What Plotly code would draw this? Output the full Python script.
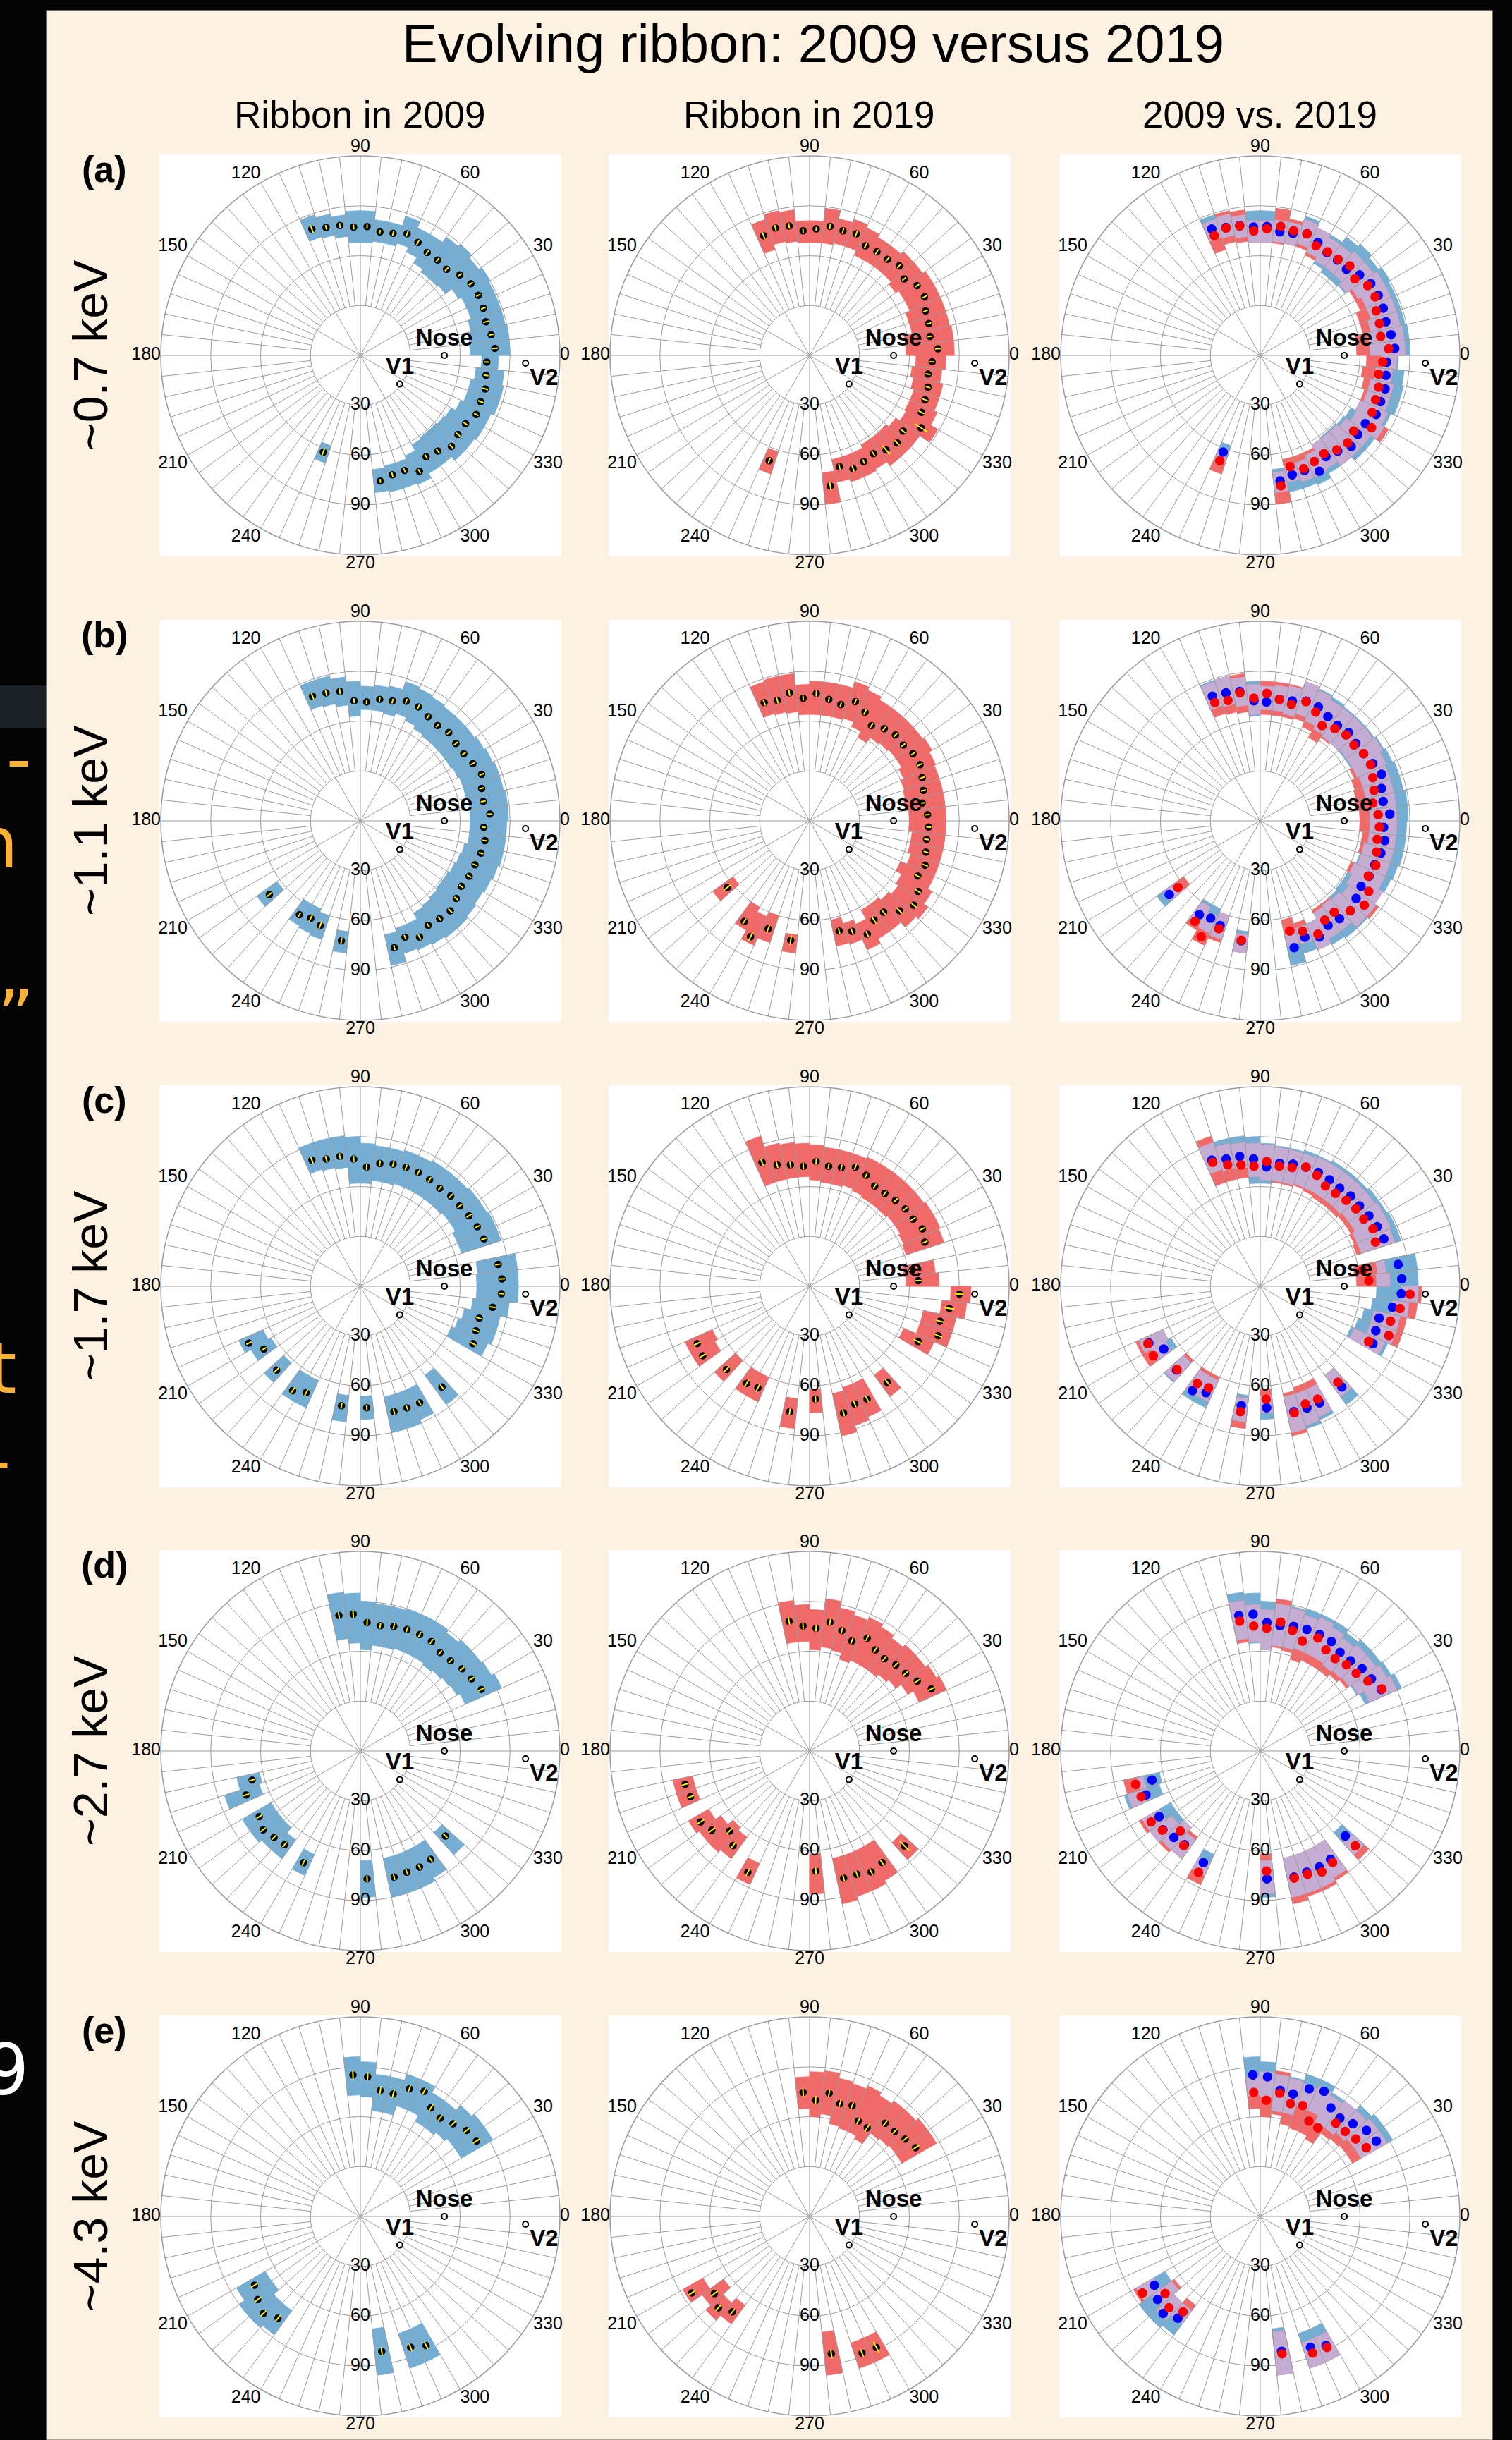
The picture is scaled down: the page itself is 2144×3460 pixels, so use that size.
import plotly.graph_objects as go

W, H = 2144, 3460
FONT = "Liberation Sans, Arial, Helvetica, sans-serif"

# ---------------- text ----------------
TITLE = "Evolving ribbon: 2009 versus 2019"
COL_TITLES = ["Ribbon in 2009", "Ribbon in 2019", "2009 vs. 2019"]
ROW_TAGS = ["(a)", "(b)", "(c)", "(d)", "(e)"]
ROW_ENERGIES = ["~0.7 keV", "~1.1 keV", "~1.7 keV", "~2.7 keV", "~4.3 keV"]
ANG_TICKS = list(range(0, 360, 30))
ANG_TICK_POS = ["middle right", "top right", "top right", "top center", "top left", "top left",
                "middle left", "bottom left", "bottom left", "bottom center", "bottom right", "bottom right"]
RAD_TICKS = [30, 60, 90]
RAD_MAX = 120
BIN_W = 6
MINOR_SPOKES = [a for a in range(0, 360, 6) if a % 30]

LANDMARK_NAMES = ["<b>Nose</b>", "<b>V1</b>", "<b>V2</b>"]
LANDMARK_R = [50.5, 29.3, 99.4]
LANDMARK_THETA = [0, 324, 357.3]
LANDMARK_TEXTPOS = ["top center", "top center", "bottom right"]

# ---------------- data: (a) ~0.7 keV ----------------
theta_a = [111, 105, 99, 93, 87, 81, 75, 69, 63, 57, 51, 45, 39, 33, 27, 21, 15, 9, 3,
           357, 351, 345, 339, 333, 327, 321, 315, 309, 303, 297, 291, 285, 279, 249]
peak_a_2009 = [81.4, 79.7, 79.1, 77.3, 77.6, 75.2, 76.0, 78.4, 76.3, 73.8, 73.8, 73.3, 76.9, 79.2, 79.6, 79.2, 78.2, 79.6, 81.0,
               76.1, 76.5, 77.7, 77.5, 78.2, 75.4, 75.5, 77.4, 74.0, 72.6, 78.2, 74.1, 74.3, 76.4, 62.2]
lo_a_2009 = [75, 74, 72, 68, 68, 69, 69, 71, 68, 64, 62, 62, 63, 68, 70, 70, 68, 66, 66,
             73, 70, 68, 68, 66, 63, 62, 61, 61, 62, 66, 68, 68, 69, 57]
hi_a_2009 = [89, 87, 85, 87, 87, 82, 82, 88, 84, 84, 88, 90, 88, 90, 89, 89, 89, 90, 90,
             83, 87, 88, 88, 86, 86, 85, 85, 82, 82, 85, 84, 84, 83, 68]
err_a_2009 = [2.5, 1.5, 1.5, 1.5, 1.2, 1.2, 1.5, 1.8, 1.8, 1.5, 1.5, 1.5, 1.5, 1.5, 1.5, 1.5, 1.8, 1.5, 1.8,
              1.5, 1.5, 1.8, 1.8, 1.5, 1.5, 1.8, 1.5, 1.5, 1.5, 1.5, 1.5, 1.5, 1.2, 2.5]
peak_a_2019 = [77.1, 79.3, 78.8, 75.0, 76.2, 78.6, 77.6, 78.3, 74.0, 74.3, 74.4, 76.2, 73.1, 77.1, 77.5, 74.7, 74.2, 73.3, 77.3,
               73.8, 72.1, 73.7, 74.3, 75.5, 79.8, 72.3, 74.3, 73.1, 70.4, 71.6, 72.9, 69.2, 79.4, 67.8]
lo_a_2019 = [67, 70, 69, 68, 68, 68, 69, 69, 66, 66, 66, 66, 64, 66, 66, 63, 63, 58, 58,
             64, 62, 64, 66, 66, 67, 64, 62, 62, 62, 64, 64, 64, 71, 61]
hi_a_2019 = [86, 89, 88, 81, 81, 89, 84, 86, 84, 82, 82, 84, 84, 86, 86, 86, 86, 87, 87,
             82, 80, 82, 82, 84, 89, 82, 82, 82, 79, 80, 80, 78, 90, 75]
err_a_2019 = [2.2, 2.0, 1.8, 1.2, 1.2, 1.8, 1.8, 2.0, 1.8, 1.8, 1.8, 1.8, 1.5, 1.5, 1.8, 1.5, 1.5, 1.5, 1.8,
              1.5, 1.5, 1.5, 1.8, 2.0, 4.5, 1.8, 2.2, 3.5, 1.8, 1.5, 2.0, 1.8, 2.5, 1.8]

# ---------------- data: (b) ~1.1 keV ----------------
theta_b = [111, 105, 99, 93, 87, 81, 75, 69, 63, 57, 51, 45, 39, 33, 27, 21, 15, 9, 3,
           357, 351, 345, 339, 333, 327, 321, 315, 309, 303, 297, 291, 285,
           261, 249, 243, 237, 219]
peak_b_2009 = [80.3, 79.7, 78.8, 72.3, 71.6, 74.0, 74.6, 77.1, 76.9, 74.7, 73.8, 75.1, 73.9, 74.1, 75.9, 78.1, 75.5, 74.8, 78.0,
               74.3, 75.8, 75.1, 73.8, 73.4, 72.3, 74.2, 76.5, 75.7, 74.9, 78.4, 74.9, 78.9,
               73.0, 67.4, 65.7, 67.3, 70.4]
lo_b_2009 = [73, 72, 70, 63, 67, 67, 66, 68, 66, 64, 63, 63, 63, 63, 64, 65, 65, 66, 66,
             66, 66, 64, 63, 62, 61, 61, 62, 63, 64, 68, 68, 70,
             67, 60, 58, 58, 62]
hi_b_2009 = [89, 89, 87, 84, 81, 82, 83, 88, 87, 86, 85, 85, 85, 86, 87, 88, 88, 89, 89,
             88, 88, 88, 87, 86, 85, 86, 87, 87, 86, 85, 84, 89,
             80, 75, 74, 73, 77]
err_b_2009 = [2.2, 2.0, 1.8, 1.5, 1.5, 1.5, 1.5, 1.5, 1.5, 1.5, 1.5, 1.5, 1.5, 1.5, 1.5, 1.5, 1.5, 1.5, 1.5,
              1.2, 1.5, 1.5, 1.5, 1.5, 1.5, 1.5, 1.8, 1.5, 1.5, 1.8, 1.5, 1.5,
              2.0, 2.5, 2.5, 1.5, 2.0]
peak_b_2019 = [76.2, 75.0, 77.9, 73.9, 76.7, 73.9, 72.4, 76.8, 73.4, 68.3, 71.3, 73.0, 72.5, 74.1, 74.5, 72.5, 70.8, 68.5, 71.0,
               71.7, 71.2, 72.4, 74.4, 73.0, 77.8, 80.5, 76.4, 70.7, 71.2, 76.4, 71.1, 68.6,
               72.7, 69.5, 78.2, 72.1, 63.7]
lo_b_2019 = [68, 67, 66, 64, 64, 64, 64, 65, 62, 58, 62, 63, 64, 64, 62, 60, 59, 58, 60,
             60, 62, 62, 64, 60, 64, 66, 64, 62, 62, 68, 65, 61,
             69, 60, 63, 60, 57]
hi_b_2019 = [88, 89, 89, 82, 84, 84, 84, 88, 86, 84, 84, 84, 84, 85, 83, 82, 82, 82, 82,
             82, 82, 82, 82, 82, 85, 88, 86, 82, 82, 85, 78, 77,
             80, 77, 82, 76, 72]
err_b_2019 = [2.0, 2.0, 1.8, 1.5, 1.8, 1.5, 1.5, 1.8, 1.8, 1.8, 1.5, 1.5, 1.5, 1.5, 1.8, 1.8, 1.5, 1.5, 1.5,
              1.5, 1.5, 1.5, 1.8, 2.0, 2.2, 2.5, 2.5, 2.0, 2.5, 2.0, 2.2, 2.0,
              3.0, 2.5, 3.0, 2.0, 3.0]

# ---------------- data: (c) ~1.7 keV ----------------
theta_c = [111, 105, 99, 93, 87, 81, 75, 69, 63, 57, 51, 45, 39, 33, 27, 21,
           9, 3, 357, 351, 345, 339, 333,
           309, 297, 291, 285, 273, 261, 243, 237, 225, 213, 207]
peak_c_2009 = [81.3, 79.2, 79.1, 76.6, 71.9, 74.8, 76.1, 76.6, 76.9, 76.4, 75.9, 76.8, 76.8, 77.9, 78.9, 79.6,
               83.9, 85.2, 84.9, 80.5, 74.0, 74.4, 76.0,
               77.9, 78.6, 78.3, 78.0, 73.1, 72.7, 71.8, 74.8, 71.2, 69.2, 75.2]
lo_c_2009 = [74, 73, 72, 62, 62, 64, 64, 65, 65, 65, 65, 65, 66, 66, 64, 64,
             71, 70, 70, 68, 64, 62, 60,
             66, 68, 68, 68, 66, 66, 62, 62, 62, 62, 64]
hi_c_2009 = [91, 91, 91, 90, 86, 85, 85, 86, 86, 87, 87, 87, 88, 88, 89, 89,
             95, 95, 95, 90, 86, 86, 84,
             88, 88, 90, 90, 80, 82, 80, 80, 78, 76, 80]
err_c_2009 = [2.2, 2.0, 2.0, 2.0, 2.0, 1.8, 1.8, 1.8, 1.8, 1.8, 1.8, 1.8, 1.8, 1.8, 1.8, 1.8,
              1.8, 1.8, 1.8, 1.8, 2.0, 2.0, 2.0,
              1.8, 1.8, 1.8, 1.8, 1.8, 1.8, 2.2, 2.5, 2.0, 1.8, 1.8]
peak_c_2019 = [79.8, 75.6, 73.9, 72.3, 75.2, 73.1, 73.9, 76.8, 74.9, 71.9, 71.9, 73.0, 74.0, 74.2, 76.1, 74.2,
               62.4, 65.4, 90.2, 85.1, 81.1, 82.8, 73.2,
               74.2, 76.1, 75.7, 78.8, 67.9, 76.3, 68.5, 69.6, 70.7, 76.6, 75.8]
lo_c_2019 = [66, 66, 66, 66, 64, 63, 63, 64, 63, 62, 62, 62, 63, 63, 62, 61,
             57, 58, 85, 80, 70, 70, 62,
             66, 64, 64, 66, 62, 68, 60, 60, 60, 66, 64]
hi_c_2019 = [95, 88, 87, 86, 85, 84, 84, 84, 85, 85, 85, 85, 85, 86, 86, 85,
             76, 78, 97, 95, 90, 90, 82,
             82, 86, 88, 92, 76, 86, 76, 76, 77, 82, 82]
err_c_2019 = [2.2, 2.0, 2.0, 2.0, 2.0, 1.8, 1.8, 1.8, 1.8, 1.8, 1.8, 1.8, 1.8, 1.8, 2.0, 1.8,
              2.0, 2.0, 2.5, 3.0, 2.5, 2.5, 3.0,
              2.2, 2.2, 2.2, 2.2, 2.0, 2.0, 2.5, 2.5, 2.5, 2.2, 2.2]

# ---------------- data: (d) ~2.7 keV ----------------
theta_d = [99, 93, 87, 81, 75, 69, 63, 57, 51, 45, 39, 33, 27,
           315, 303, 297, 291, 285, 273,
           243, 231, 225, 219, 213, 201, 195]
peak_d_2009 = [82.5, 82.4, 77.4, 76.3, 77.6, 78.3, 78.6, 78.5, 76.2, 76.7, 78.7, 79.7, 81.6,
               72.3, 77.6, 78.3, 78.0, 78.5, 77.0,
               75.3, 72.4, 73.4, 75.3, 72.5, 73.6, 67.4]
lo_d_2009 = [68, 65, 61, 64, 64, 65, 65, 65, 64, 65, 66, 67, 69,
             66, 66, 66, 66, 66, 66,
             68, 66, 62, 62, 62, 64, 62]
hi_d_2009 = [96, 95, 90, 89, 89, 90, 90, 90, 88, 90, 90, 91, 93,
             84, 88, 90, 90, 90, 88,
             82, 80, 80, 82, 82, 86, 76]
err_d_2009 = [2.2, 2.2, 2.0, 1.8, 1.8, 1.8, 1.8, 1.8, 1.8, 1.8, 1.8, 2.0, 2.2,
              1.8, 1.8, 1.8, 1.8, 1.8, 2.0,
              2.0, 2.0, 2.0, 2.0, 2.0, 2.0, 2.0]
peak_d_2019 = [79.0, 75.3, 73.9, 78.5, 75.0, 70.8, 76.3, 72.5, 71.5, 73.3, 74.3, 77.2, 82.1,
               80.7, 79.9, 81.6, 79.4, 79.1, 72.3,
               81.8, 73.1, 68.0, 75.7, 78.2, 76.7, 77.5]
lo_d_2019 = [66, 66, 61, 63, 62, 58, 60, 60, 60, 62, 64, 68, 72,
             74, 66, 66, 66, 66, 62,
             74, 64, 62, 66, 70, 72, 72]
hi_d_2019 = [91, 88, 85, 92, 88, 86, 88, 86, 84, 86, 86, 88, 90,
             88, 90, 92, 92, 94, 86,
             88, 80, 82, 82, 84, 84, 84]
err_d_2019 = [2.2, 2.0, 2.0, 2.2, 2.0, 2.0, 2.0, 2.0, 2.0, 2.0, 2.0, 2.0, 2.2,
              4.0, 2.2, 2.2, 2.2, 2.2, 2.2,
              2.5, 2.5, 2.5, 2.5, 2.5, 2.2, 2.2]

# ---------------- data: (e) ~4.3 keV ----------------
theta_e = [93, 87, 81, 75, 69, 63, 57, 51, 45, 39, 33,
           297, 291, 279,
           231, 225, 219, 213]
peak_e_2009 = [85.2, 84.1, 76.7, 76.3, 82.2, 84.5, 77.9, 76.1, 78.8, 82.2, 83.2,
               87.1, 84.3, 82.1,
               78.7, 82.5, 79.4, 75.9]
lo_e_2009 = [73, 72, 64, 64, 70, 70, 66, 66, 68, 70, 70,
             74, 74, 68,
             70, 70, 66, 66]
hi_e_2009 = [96, 93, 86, 86, 90, 90, 86, 86, 90, 92, 92,
             96, 96, 96,
             88, 90, 90, 86]
err_e_2009 = [2.5, 2.5, 2.5, 2.5, 2.2, 2.2, 2.5, 2.2, 2.2, 2.2, 2.5,
              2.5, 2.5, 2.5,
              2.5, 2.5, 2.5, 2.5]
peak_e_2019 = [74.7, 70.0, 75.0, 70.2, 71.4, 64.4, 63.6, 72.2, 72.2, 73.9, 76.0,
               88.4, 88.0, 83.6,
               73.8, 77.6, 73.6, 84.4]
lo_e_2019 = [65, 60, 62, 57, 56, 56, 54, 62, 63, 64, 64,
             80, 80, 70,
             66, 70, 64, 74]
hi_e_2019 = [84, 87, 88, 85, 84, 86, 84, 86, 86, 88, 88,
             96, 96, 96,
             80, 84, 80, 88]
err_e_2019 = [2.5, 2.5, 2.5, 2.5, 2.2, 2.2, 2.5, 2.2, 2.2, 2.2, 2.5,
              4.0, 2.5, 2.8,
              2.2, 2.5, 2.5, 2.5]

ROWS = [
    (theta_a, (peak_a_2009, lo_a_2009, hi_a_2009, err_a_2009), (peak_a_2019, lo_a_2019, hi_a_2019, err_a_2019)),
    (theta_b, (peak_b_2009, lo_b_2009, hi_b_2009, err_b_2009), (peak_b_2019, lo_b_2019, hi_b_2019, err_b_2019)),
    (theta_c, (peak_c_2009, lo_c_2009, hi_c_2009, err_c_2009), (peak_c_2019, lo_c_2019, hi_c_2019, err_c_2019)),
    (theta_d, (peak_d_2009, lo_d_2009, hi_d_2009, err_d_2009), (peak_d_2019, lo_d_2019, hi_d_2019, err_d_2019)),
    (theta_e, (peak_e_2009, lo_e_2009, hi_e_2009, err_e_2009), (peak_e_2019, lo_e_2019, hi_e_2019, err_e_2019)),
]

# ---------------- style / geometry ----------------
BLUE_BAND = "#76AED3"
RED_BAND = "#F06A6A"
LAV_BAND = "#C5ACD3"
GRID = "#9C9C9C"
CREAM = "#FDF2E2"
DOT_2009 = "#0000FF"
DOT_2019 = "#FF0000"

COL_CX = [511, 1148, 1787]
ROW_CY = [504, 1164, 1824, 2483, 3143]
RPX = 283
SQ = 285


def px(x):
    return x / W


def py(y):
    return 1 - y / H


fig = go.Figure()


def bars(sub, theta, lo, hi, color):
    fig.add_trace(go.Barpolar(
        theta=list(theta), base=list(lo), r=[h - l for l, h in zip(lo, hi)],
        width=BIN_W, marker=dict(color=color, line=dict(color=color, width=0.8)),
        subplot=sub, hoverinfo="skip", showlegend=False))


def spokes(sub):
    rr, tt = [], []
    for a in MINOR_SPOKES:
        rr += [RAD_TICKS[0], RAD_MAX, None]
        tt += [a, a, None]
    fig.add_trace(go.Scatterpolar(r=rr, theta=tt, mode="lines",
                                  line=dict(color=GRID, width=1),
                                  subplot=sub, hoverinfo="skip", showlegend=False))


def labels(sub):
    fig.add_trace(go.Scatterpolar(
        r=LANDMARK_R, theta=LANDMARK_THETA, mode="markers+text",
        text=LANDMARK_NAMES, textposition=LANDMARK_TEXTPOS,
        textfont=dict(size=33, color="black", family=FONT),
        marker=dict(symbol="circle-open", size=8, color="black", line=dict(width=2)),
        cliponaxis=False, subplot=sub, hoverinfo="skip", showlegend=False))
    fig.add_trace(go.Scatterpolar(
        r=RAD_TICKS, theta=[270] * len(RAD_TICKS), mode="text",
        text=[str(v) for v in RAD_TICKS], textposition="middle center",
        textfont=dict(size=25, color="black", family=FONT),
        cliponaxis=False, subplot=sub, hoverinfo="skip", showlegend=False))
    fig.add_trace(go.Scatterpolar(
        r=[RAD_MAX] * len(ANG_TICKS), theta=ANG_TICKS, mode="text",
        text=[str(v) for v in ANG_TICKS], textposition=ANG_TICK_POS,
        textfont=dict(size=25, color="black", family=FONT),
        cliponaxis=False, subplot=sub, hoverinfo="skip", showlegend=False))


def dots_with_err(sub, theta, peak, err):
    fig.add_trace(go.Scatterpolar(
        r=list(peak), theta=list(theta), mode="markers",
        marker=dict(color="black", size=10.5, line=dict(width=0)),
        subplot=sub, hoverinfo="skip", showlegend=False))
    rr, tt = [], []
    for t, p, e in zip(theta, peak, err):
        rr += [p - e, p + e, None]
        tt += [t, t, None]
    fig.add_trace(go.Scatterpolar(
        r=rr, theta=tt, mode="lines", line=dict(color="#FFF200", width=2),
        subplot=sub, hoverinfo="skip", showlegend=False))


polar_layouts = {}
shapes = []
pid = 0
for ri, (theta, y09, y19) in enumerate(ROWS):
    for ci in range(3):
        pid += 1
        name = "polar" if pid == 1 else f"polar{pid}"
        cx, cy = COL_CX[ci], ROW_CY[ri]
        polar_layouts[name] = dict(
            domain=dict(x=[px(cx - RPX), px(cx + RPX)], y=[py(cy + RPX), py(cy - RPX)]),
            bgcolor="white",
            barmode="overlay",
            angularaxis=dict(
                rotation=0, direction="counterclockwise", thetaunit="degrees",
                tickmode="array", tickvals=ANG_TICKS, showticklabels=False,
                showgrid=True, gridcolor=GRID, gridwidth=1,
                showline=True, linecolor=GRID, linewidth=1.5, ticks=""),
            radialaxis=dict(
                range=[0, RAD_MAX], tickmode="array", tickvals=RAD_TICKS,
                showgrid=True, gridcolor=GRID, gridwidth=1,
                showticklabels=False, showline=False, ticks=""),
        )
        shapes.append(dict(type="rect", xref="paper", yref="paper", layer="below",
                           x0=px(cx - SQ), x1=px(cx + SQ), y0=py(cy + SQ), y1=py(cy - SQ),
                           fillcolor="white", line=dict(width=0)))
        spokes(name)
        p09, lo09, hi09, e09 = y09
        p19, lo19, hi19, e19 = y19
        if ci == 0:
            bars(name, theta, lo09, hi09, BLUE_BAND)
            dots_with_err(name, theta, p09, e09)
        elif ci == 1:
            bars(name, theta, lo19, hi19, RED_BAND)
            dots_with_err(name, theta, p19, e19)
        else:
            bars(name, theta, lo09, hi09, BLUE_BAND)
            bars(name, theta, lo19, hi19, RED_BAND)
            ot, ol, oh = [], [], []
            for t, a0, a1, b0, b1 in zip(theta, lo09, hi09, lo19, hi19):
                l, h = max(a0, b0), min(a1, b1)
                if h > l:
                    ot.append(t); ol.append(l); oh.append(h)
            bars(name, ot, ol, oh, LAV_BAND)
            fig.add_trace(go.Scatterpolar(
                r=list(p09), theta=list(theta), mode="markers",
                marker=dict(color=DOT_2009, size=13.5, line=dict(width=0)),
                subplot=name, hoverinfo="skip", showlegend=False))
            fig.add_trace(go.Scatterpolar(
                r=list(p19), theta=list(theta), mode="markers",
                marker=dict(color=DOT_2019, size=13.5, line=dict(width=0)),
                subplot=name, hoverinfo="skip", showlegend=False))
        labels(name)

# background panel (plus a faint slide band on the dark strip)
shapes = [
    dict(type="rect", xref="paper", yref="paper", layer="below",
         x0=0, x1=px(66), y0=py(1032), y1=py(972), fillcolor="#1b2126",
         line=dict(width=0)),
    dict(type="rect", xref="paper", yref="paper", layer="below",
         x0=px(66), x1=px(2116), y0=0, y1=py(15), fillcolor=CREAM,
         line=dict(color="#8a8a8a", width=1.5)),
] + shapes

annotations = [
    dict(text=TITLE, x=px(1153), y=py(62), xref="paper", yref="paper", showarrow=False,
         xanchor="center", yanchor="middle", font=dict(size=76, color="black", family=FONT)),
]
for ci, t in enumerate(COL_TITLES):
    annotations.append(dict(text=t, x=px(COL_CX[ci] - 1), y=py(162), xref="paper", yref="paper",
                            showarrow=False, xanchor="center", yanchor="middle",
                            font=dict(size=53, color="black", family=FONT)))
for ri in range(5):
    cy = ROW_CY[ri]
    annotations.append(dict(text=f"<b>{ROW_TAGS[ri]}</b>", x=px(148), y=py(cy - 264),
                            xref="paper", yref="paper", showarrow=False,
                            xanchor="center", yanchor="middle",
                            font=dict(size=52, color="black", family=FONT)))
    annotations.append(dict(text=ROW_ENERGIES[ri], x=px(128), y=py(cy), textangle=-90,
                            xref="paper", yref="paper", showarrow=False,
                            xanchor="center", yanchor="middle",
                            font=dict(size=68, color="black", family=FONT)))

# fragments of slide text peeking out on the left
SIDE_TEXT = ["ing-", "on", "le\u201d", "at", "t-", "09"]
SIDE_Y = [1075, 1195, 1440, 1940, 2070, 2935]
SIDE_X = [47, 28, 50, 26, 17, 43]
SIDE_COL = ["#F9B233", "#F9B233", "#F9B233", "#F9B233", "#F9B233", "#FFFFFF"]
for t, yy, xx, cc in zip(SIDE_TEXT, SIDE_Y, SIDE_X, SIDE_COL):
    annotations.append(dict(text=t, x=px(xx), y=py(yy), xref="paper", yref="paper",
                            showarrow=False, xanchor="right", yanchor="middle",
                            font=dict(size=100, color=cc, family="DejaVu Sans, sans-serif")))

fig.update_layout(
    width=W, height=H, margin=dict(l=0, r=0, t=0, b=0, pad=0),
    paper_bgcolor="#030303", showlegend=False,
    shapes=shapes, annotations=annotations,
    **polar_layouts,
)

fig.write_html("out.html", config={"displayModeBar": False},
               post_script="document.body.style.margin='0';document.body.style.background='#030303';")
